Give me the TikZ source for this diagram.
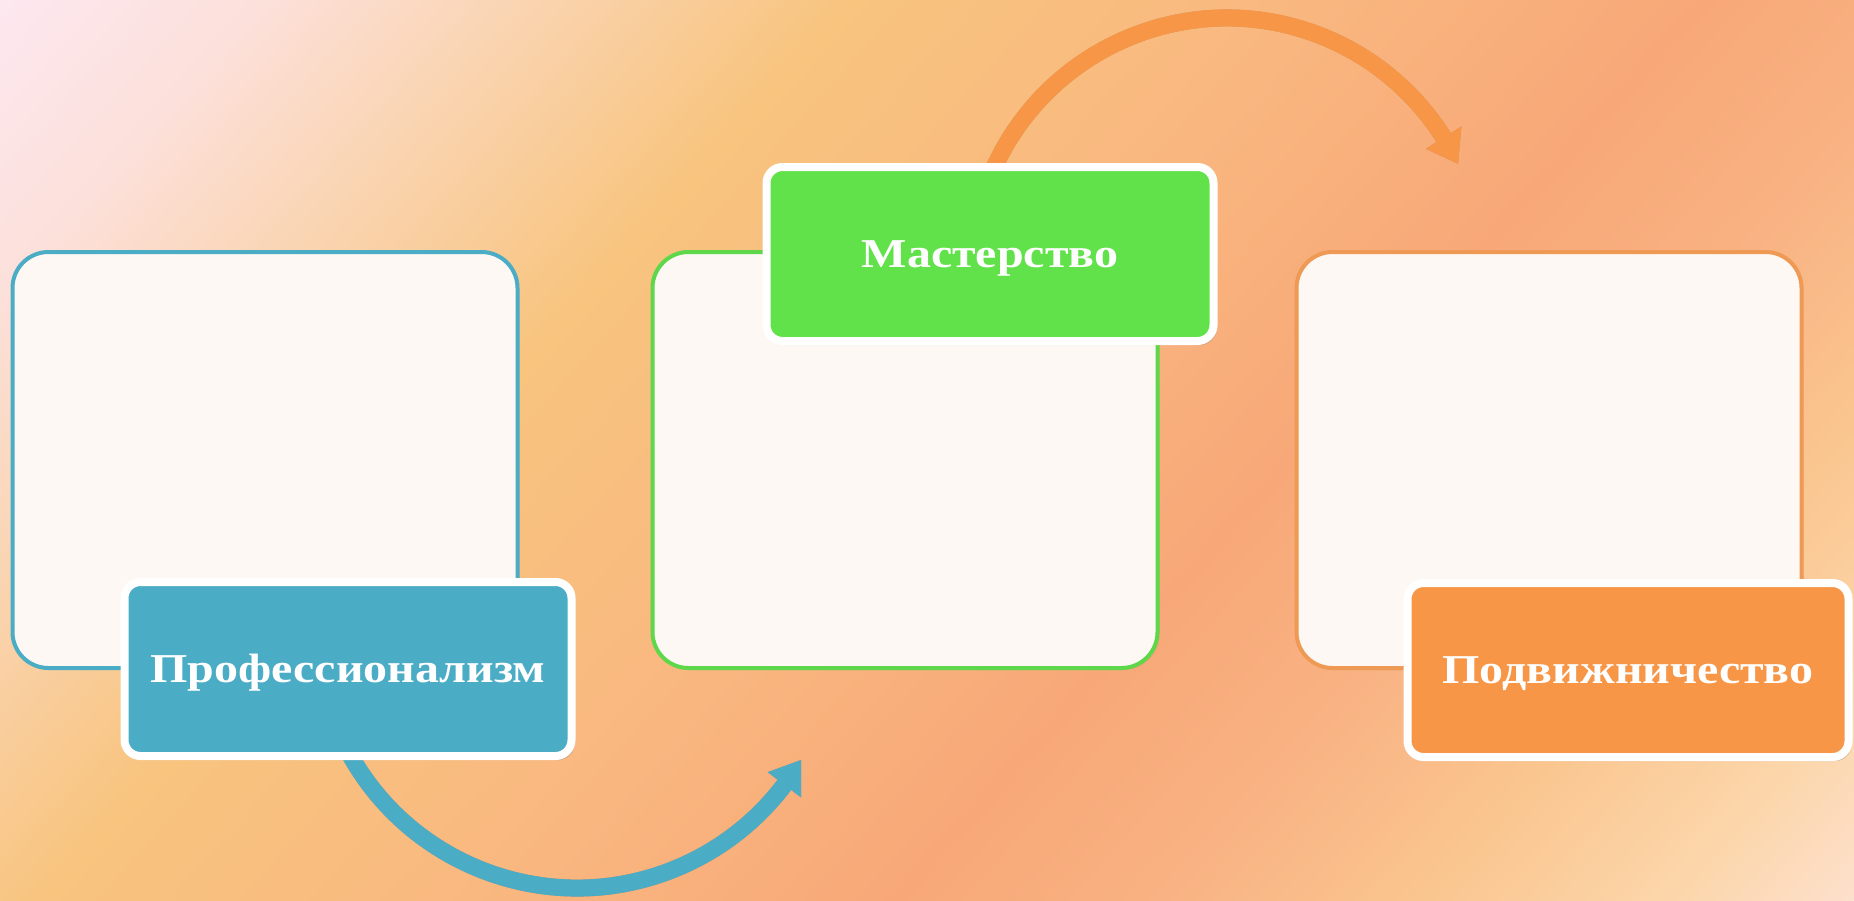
\documentclass[tikz,border=0pt]{standalone}
\usepackage{fontspec}
\newfontfamily\labfont[FakeStretch=1.17]{Liberation Serif}
\usetikzlibrary{shadows}
\definecolor{bg0}{HTML}{FDE8F0}
\definecolor{bg1}{HTML}{FCE0DA}
\definecolor{bg2}{HTML}{FAD4B0}
\definecolor{bg3}{HTML}{F8C47E}
\definecolor{bg4}{HTML}{F9B880}
\definecolor{bg5}{HTML}{F8A878}
\definecolor{bg6}{HTML}{F9B283}
\definecolor{bg7}{HTML}{FAC690}
\definecolor{bg8}{HTML}{FCD6AA}
\definecolor{bg9}{HTML}{FDE0CC}
\definecolor{blueC}{HTML}{4BACC6}
\definecolor{greenC}{HTML}{62E24A}
\definecolor{greenB}{HTML}{5ED84A}
\definecolor{orangeC}{HTML}{F79646}
\definecolor{orangeB}{HTML}{EE9A55}
\definecolor{boxfill}{HTML}{FDF8F3}
\pgfdeclarehorizontalshading{bgshade}{100bp}{color(0bp)=(bg0); color(25bp)=(bg0); color(30bp)=(bg1); color(35bp)=(bg2); color(41bp)=(bg3); color(49bp)=(bg4); color(57bp)=(bg5); color(62bp)=(bg6); color(67bp)=(bg7); color(71.5bp)=(bg8); color(75bp)=(bg9); color(100bp)=(bg9)}
\tikzset{
  bigbox/.style={draw, line width=4pt, fill=boxfill, rounded corners=36pt,
    minimum width=505pt, minimum height=416pt, inner sep=0pt,
    drop shadow={opacity=0.15, shadow xshift=2pt, shadow yshift=-2pt}},
  labelbox/.style={draw=white, line width=8pt, rounded corners=16pt,
    minimum height=174pt, inner sep=0pt, text=white,
    font=\labfont\bfseries\fontsize{41}{41}\selectfont,
    text height=27pt, text depth=0pt,
    drop shadow={opacity=0.3, shadow xshift=3pt, shadow yshift=-4pt}},
  shaft/.style={line width=17pt}
}
% #1 colour, #2 centre, #3 radius, #4 start angle, #5 shaft end angle,
% #6 head base angle, #7 tip angle, #8 inner base radius, #9 outer base radius
\newcommand\curvedarrow[9]{%
  \draw[shaft, draw=#1] ([shift={(#4:#3)}]#2) arc[start angle=#4, end angle=#5, radius=#3];
  \fill[#1] ([shift={(#7:#3)}]#2) -- ([shift={(#6:#8)}]#2) -- ([shift={(#6:#9)}]#2) -- cycle;}
\begin{document}
\begin{tikzpicture}[x=1pt,y=-1pt]
\useasboundingbox (0,0) rectangle (1854,900);
\begin{scope}
  \clip (0,0) rectangle (1854,900);
  \begin{scope}[transform canvas={shift={(927,450)},rotate=-42}]
    \shade[shading=bgshade] (-990,-1000) rectangle (990,1000);
  \end{scope}
\end{scope}
% big boxes
\node[bigbox, draw=blueC] (b1) at (265,460) {};
\node[bigbox, draw=greenB] (b2) at (905,460) {};
\node[bigbox, draw=orangeB] (b3) at (1549,460) {};
% arrow centres
\coordinate (c1) at (577,628);
\coordinate (c2) at (1227,274);
% arrow shadows
\begin{scope}[shift={(3,4)}, transparency group, opacity=0.18]
  \curvedarrow{black}{c1}{260}{155}{35.6}{37.1}{30.5}{239}{281}
  \curvedarrow{black}{c2}{256}{202}{329.3}{327.8}{334.5}{235}{277}
\end{scope}
% arrows
\curvedarrow{blueC}{c1}{260}{155}{35.6}{37.1}{30.5}{239}{281}
\curvedarrow{orangeC}{c2}{256}{202}{329.3}{327.8}{334.5}{235}{277}
% labels
\node[labelbox, fill=blueC, minimum width=447pt] (l1) at (348,669) {Профессионализм};
\node[labelbox, fill=greenC, minimum width=447pt] (l2) at (990,254) {Мастерство};
\node[labelbox, fill=orangeC, minimum width=441pt] (l3) at (1628,670) {Подвижничество};
\end{tikzpicture}
\end{document}
